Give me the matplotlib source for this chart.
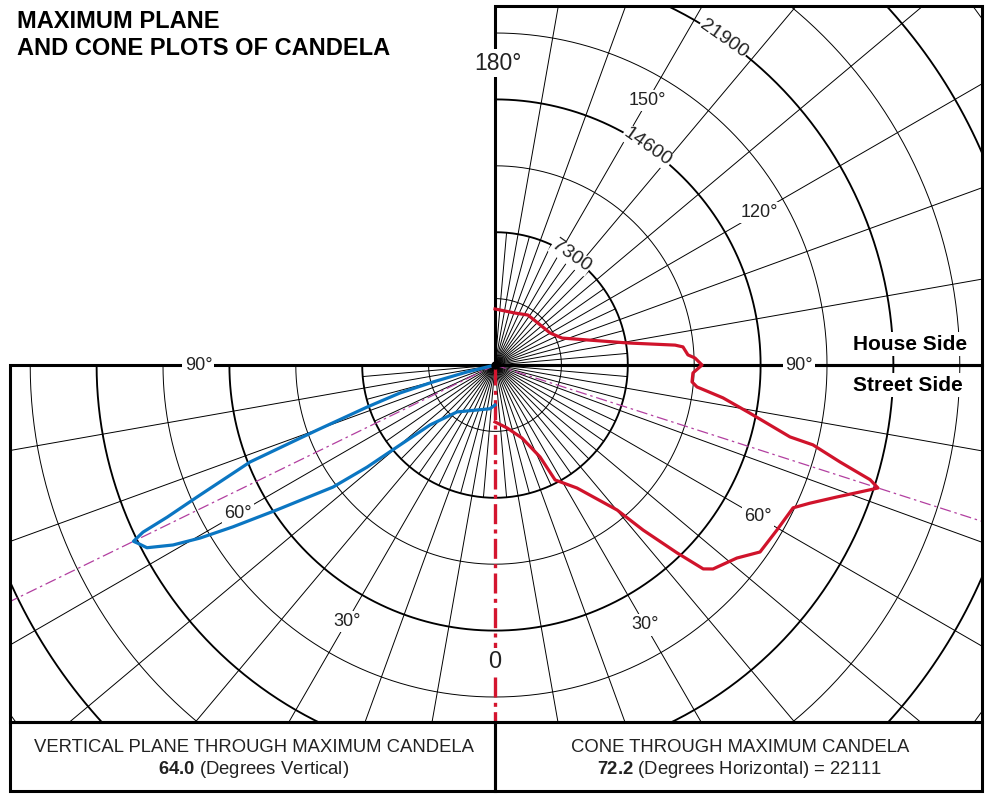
import numpy as np
import matplotlib.pyplot as plt
from matplotlib.patches import Rectangle

plt.rcParams['font.family'] = ['Liberation Sans', 'DejaVu Sans']
plt.rcParams['mathtext.fontset'] = 'custom'
plt.rcParams['mathtext.bf'] = 'Liberation Sans:bold'
plt.rcParams['mathtext.rm'] = 'Liberation Sans'

# vertical plane through maximum candela: vertical angle (deg from nadir), candela
plane_angles = [0, 6.5, 39, 47.3, 49.9, 51.4, 53.0, 56.4, 58.3, 59.6, 60.8, 62.3,
                63.5, 64.0, 64.6, 65.1, 66.1, 68.4, 69.9, 71.8, 73.6, 74.7, 76.0, 90]
plane_cd = [2200, 2420, 3320, 4860, 6830, 9000, 11150, 14390, 16930, 18800, 20280, 21610,
            21950, 22111, 21420, 19870, 17920, 14480, 10420, 7400, 5440, 3530, 1590, 0]

# cone through maximum candela: horizontal angle (deg), candela
cone_angles = [0, 10.8, 20.3, 26.1, 27.6, 33.7, 40.1, 41.9, 44.1, 45.6, 46.9, 51.4,
               54.8, 59.7, 64.4, 66.3, 68.9, 71.6, 72.2, 73.0, 73.7, 74.3, 75.9, 76.3,
               79.3, 81.8, 83.8, 85.1, 87.7, 90, 92, 93, 95.5, 96.3, 99.4, 111.9,
               120.2, 134.3, 146.6, 159, 180]
cone_cd = [3130, 3520, 4280, 5630, 7130, 8130, 10420, 12190, 14380, 16020, 16410, 17010,
           17830, 17960, 18170, 18900, 20150, 21730, 22111, 21560, 20510, 19700, 18020, 16690,
           14260, 12660, 11170, 10870, 10890, 11380, 11000, 10620, 10380, 9960, 7410, 3970,
           3500, 3300, 3290, 3060, 3080]

max_vertical = 64.0
max_horizontal = 72.2
max_cd = 22111
ring_step = 3650
ring_labels = [7300, 14600, 21900]

W, H = 985, 794
CX, CY = 495, 365
K = 66.4 / ring_step  # pixels per candela


def px(x, y):
    """image pixel position -> data position"""
    return (x - CX) / K, (CY - y) / K


def polar(angles, values, side=1):
    a = np.radians(np.asarray(angles, dtype=float))
    v = np.asarray(values, dtype=float)
    return side * v * np.sin(a), -v * np.cos(a)


fig = plt.figure(figsize=(W / 100, H / 100), dpi=100)
ax = fig.add_axes([0, 0, 1, 1])
ax.set_xlim(px(0, 0)[0], px(W, 0)[0])
ax.set_ylim(px(0, H)[1], px(0, 0)[1])
ax.axis('off')

ink = '#222222'
lower = Rectangle(px(10, 722), (982 - 10) / K, (722 - 365) / K, fill=False, lw=2.2, ec='black', zorder=5)
upper = Rectangle(px(495, 365), (982 - 495) / K, (365 - 6) / K, fill=False, lw=2.2, ec='black', zorder=5)
ax.add_patch(lower)
ax.add_patch(upper)
ax.add_patch(Rectangle(px(10, 791), (495 - 10) / K, (791 - 722) / K, fill=False, lw=2.2, ec='black', zorder=5))
ax.add_patch(Rectangle(px(495, 791), (982 - 495) / K, (791 - 722) / K, fill=False, lw=2.2, ec='black', zorder=5))

# rings
far = 12 * ring_step
for n in range(1, 11):
    r = n * ring_step
    lw = 1.35 if n % 2 == 0 else 0.7
    x, y = polar(np.linspace(-90, 90, 361), np.full(361, r))
    ln, = ax.plot(x, y, color='black', lw=lw, zorder=1)
    ln.set_clip_path(lower)
    x, y = polar(np.linspace(90, 180, 181), np.full(181, r))
    ln, = ax.plot(x, y, color='black', lw=lw, zorder=1)
    ln.set_clip_path(upper)

# radial lines
for a in list(range(-85, 90, 5)) + list(range(95, 180, 5)):
    if a == 0:
        continue
    L = far if a % 10 == 0 else 2 * ring_step
    x, y = polar([a, a], [0, L])
    ln, = ax.plot(x, y, color='black', lw=0.7, zorder=1)
    ln.set_clip_path(lower if abs(a) < 90 else upper)

# max candela guide lines
x, y = polar([max_vertical, max_vertical], [0, far], side=-1)
ln, = ax.plot(x, y, color='#b23fa0', lw=0.9, dashes=(9, 3, 2, 3), zorder=2)
ln.set_clip_path(lower)
x, y = polar([max_horizontal, max_horizontal], [0, far])
ln, = ax.plot(x, y, color='#b23fa0', lw=0.9, dashes=(9, 3, 2, 3), zorder=2)
ln.set_clip_path(lower)
ln, = ax.plot([0, 0], [0, -far], color='#d4152f', lw=2.4, dashes=(6, 1.6, 1.2, 1.6), zorder=3)
ln.set_clip_path(lower)

box = dict(facecolor='white', edgecolor='none', pad=1.5)
for a, txt, r in [(-90, '90°', 16300), (-60, '60°', 16300), (-30, '30°', 16300),
                  (30, '30°', 16500), (60, '60°', 16700), (90, '90°', 16700),
                  (120, '120°', 16800), (150, '150°', 16800)]:
    x, y = polar([a], [r])
    ax.text(x[0], y[0], txt, ha='center', va='center', fontsize=13, color=ink, bbox=box, zorder=7)
x, y = polar([180], [16600])
ax.text(x[0] + 3 / K, y[0], '180°', ha='center', va='center', fontsize=16.5, color=ink, bbox=box, zorder=7)
x, y = polar([0], [16300])
ax.text(x[0], y[0], '0', ha='center', va='center', fontsize=17, color=ink, bbox=box, zorder=7)

for v in ring_labels:
    x, y = polar([145], [v])
    ax.text(x[0], y[0], str(v), ha='center', va='center', rotation=-35, rotation_mode='anchor',
            fontsize=14, color=ink, bbox=dict(facecolor='white', edgecolor='none', pad=0.5), zorder=7)

# curves
x, y = polar(plane_angles, plane_cd, side=-1)
ax.plot(x, y, color='#0b76c2', lw=2.3, solid_joinstyle='round', zorder=8)
x, y = polar(cone_angles, cone_cd)
ax.plot(x, y, color='#d0132b', lw=2.3, solid_joinstyle='round', zorder=8)

ax.plot(0, 0, 'o', color='black', ms=5, zorder=9)

ax.text(*px(910, 344), 'House Side', ha='center', va='center', fontsize=15, fontweight='bold',
        color='black', bbox=box, zorder=7)
ax.text(*px(908, 385), 'Street Side', ha='center', va='center', fontsize=15, fontweight='bold',
        color='black', bbox=box, zorder=7)

ax.text(*px(17, 28), 'MAXIMUM PLANE', ha='left', va='baseline', fontsize=17, fontweight='bold')
ax.text(*px(17, 55), 'AND CONE PLOTS OF CANDELA', ha='left', va='baseline', fontsize=17, fontweight='bold')

ax.text(*px(254, 747), 'VERTICAL PLANE THROUGH MAXIMUM CANDELA', ha='center', va='center',
        fontsize=13.3, color=ink)
ax.text(*px(254, 770), r'$\mathbf{%.1f}$ (Degrees Vertical)' % max_vertical, ha='center', va='center',
        fontsize=13.3, color=ink)
ax.text(*px(740, 747), 'CONE THROUGH MAXIMUM CANDELA', ha='center', va='center',
        fontsize=13.3, color=ink)
ax.text(*px(740, 770), r'$\mathbf{%.1f}$ (Degrees Horizontal) = %d' % (max_horizontal, max_cd),
        ha='center', va='center', fontsize=13.3, color=ink)

fig.savefig('out.png', dpi=100, facecolor='white')
